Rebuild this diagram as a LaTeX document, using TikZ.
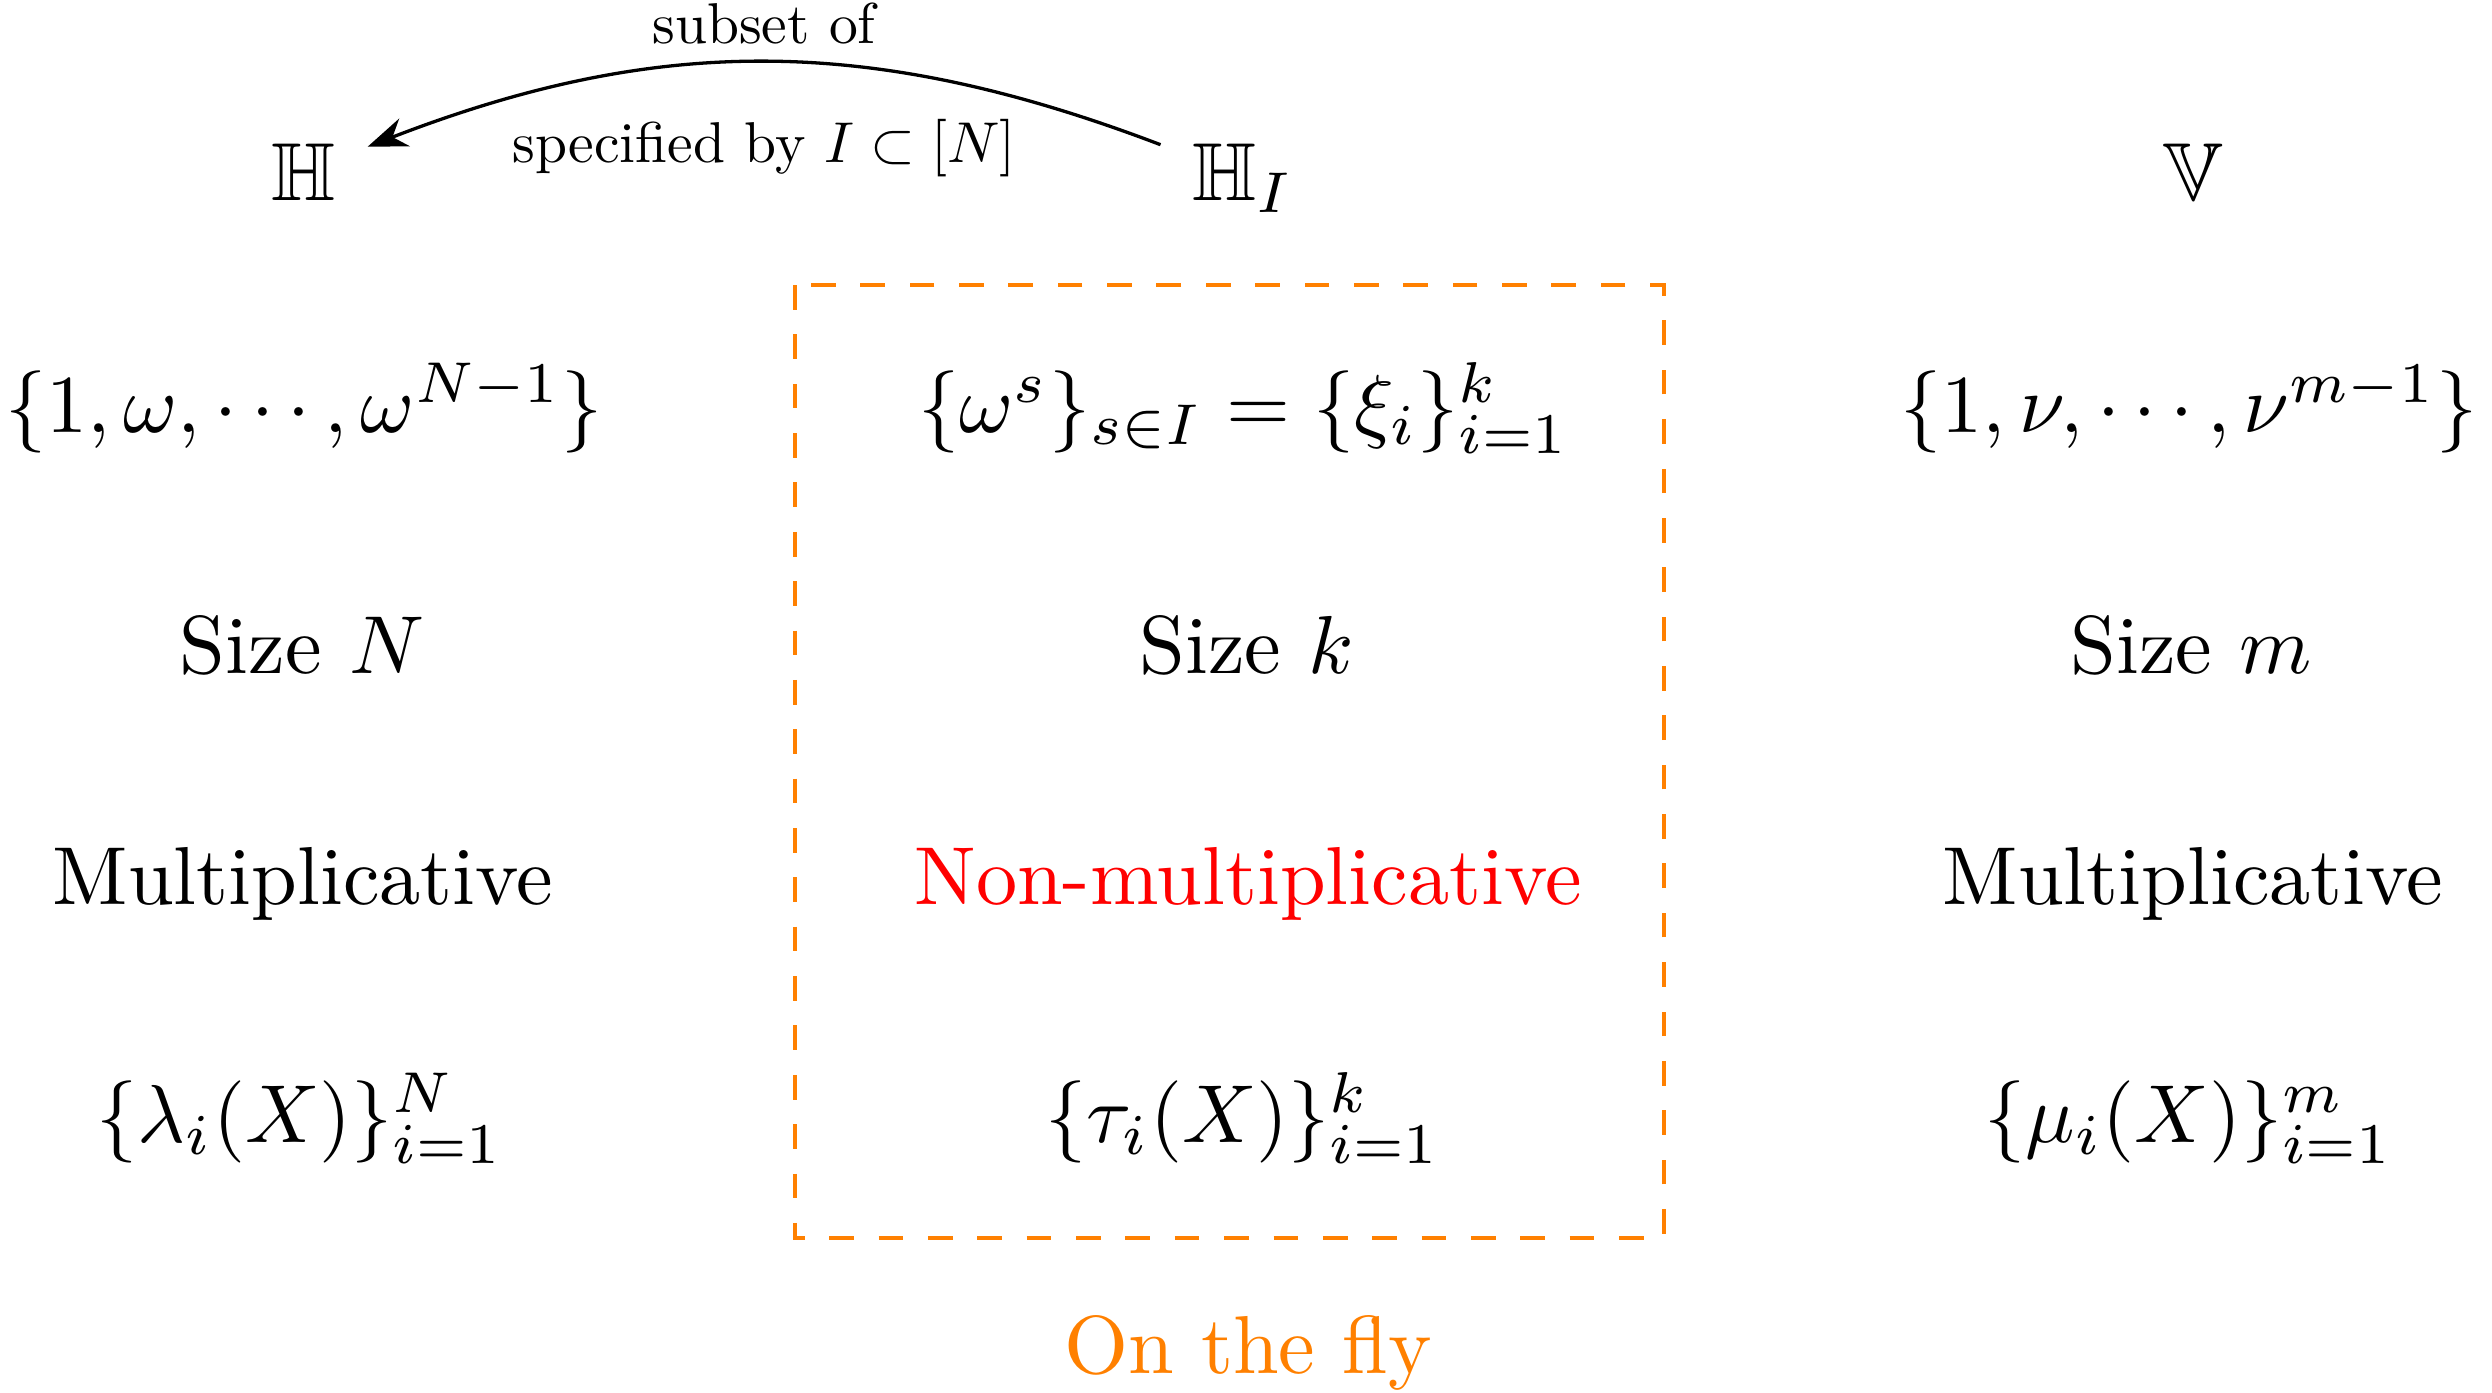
\documentclass[tikz,border=0pt]{standalone}
\usepackage{amssymb}
\usetikzlibrary{arrows.meta}
\definecolor{flyorange}{RGB}{255,128,0}
\begin{document}
\begin{tikzpicture}[x=0.0042756cm,y=-0.0042756cm,
  txt/.style={anchor=base, inner sep=0pt, font=\normalsize},
  lbl/.style={anchor=base, inner sep=0pt, font=\normalsize, scale=0.7},
  boxline/.style={draw=flyorange, line width=0.42pt, dashed},
  arc/.style={line width=0.4pt, -{Stealth}}]
\useasboundingbox (0,0) rectangle (2492,1392);
% top row
\node[txt] (H)  at (303,200)  {$\mathbb{H}$};
\node[txt] (HI) at (1243,200) {$\mathbb{H}_I$};
\node[txt] (V)  at (2193,200) {$\mathbb{V}$};
% sets
\node[txt] (s1) at (304,432)  {$\{1,\omega,\cdots,\omega^{N-1}\}$};
\node[txt] (s2) at (1244,432) {$\{\omega^s\}_{s\in I}=\{\xi_i\}_{i=1}^k$};
\node[txt] (s3) at (2189,432) {$\{1,\nu,\cdots,\nu^{m-1}\}$};
% sizes
\node[txt] (z1) at (302,673)  {Size $N$};
\node[txt] (z2) at (1247,673) {Size $k$};
\node[txt] (z3) at (2191,673) {Size $m$};
% multiplicative
\node[txt] (m1) at (303,904)  {Multiplicative};
\node[txt, text=red] (m2) at (1248,904) {Non-multiplicative};
\node[txt] (m3) at (2193,904) {Multiplicative};
% polynomials
\node[txt] (p1) at (300,1142)  {$\{\lambda_i(X)\}_{i=1}^N$};
\node[txt] (p2) at (1243,1142) {$\{\tau_i(X)\}_{i=1}^k$};
\node[txt] (p3) at (2189,1142) {$\{\mu_i(X)\}_{i=1}^m$};
% box
\coordinate (bx1) at (795,285);
\coordinate (bx2) at (1664,1238);
\draw[boxline] (bx1) rectangle (bx2);
\node[txt, text=flyorange] (fly) at (1248,1373) {On the fly};
% arrow
\draw[arc] ([shift={(-30,3)}]HI.north west) to[bend right=21] ([shift={(31,5)}]H.north east);
\node[lbl] (lab1) at (764,43)  {subset of};
\node[lbl] (lab2) at (764,162) {specified by $I\subset[N]$};
\end{tikzpicture}
\end{document}
